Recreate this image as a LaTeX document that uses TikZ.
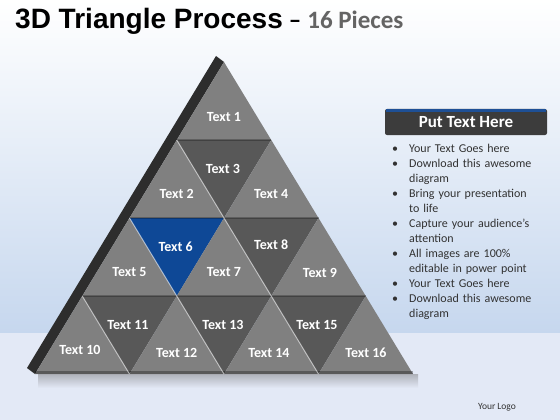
\documentclass[tikz,border=0pt]{standalone}
\usepackage{fontspec}
\setmainfont{Carlito}
\newfontfamily\titlefont{Liberation Sans}
\usetikzlibrary{calc}
\definecolor{bgblue}{RGB}{198,215,238}
\definecolor{bgpale}{RGB}{227,233,246}
\definecolor{upgray}{RGB}{128,128,128}
\definecolor{dngray}{RGB}{88,88,88}
\definecolor{sidegray}{RGB}{45,45,45}
\definecolor{blueface}{RGB}{14,72,150}
\definecolor{headgray}{RGB}{60,60,60}
\definecolor{headblue}{RGB}{30,80,150}
\definecolor{bodytext}{RGB}{50,50,50}
\definecolor{subgray}{RGB}{100,100,100}
\definecolor{shadowgray}{RGB}{175,178,186}
\newcommand{\bitem}[1]{\hangindent=17pt\hangafter=1\noindent\makebox[17pt][l]{\textbullet}#1\par}
\tikzset{
    upface/.style =   {fill=upgray},
    downface/.style = {fill=dngray},
    seam/.style =     {draw=white,
                      line width=1pt,
                      opacity=0.55},
    ledge/.style =    {draw=black,
                      line width=1.2pt,
                      opacity=0.25},
    piece/.style =    {text=white,
                      font=\fontsize{14}{16}\selectfont\bfseries,
                      inner sep=0pt},
    head/.style =     {rectangle,
                      rounded corners=2pt,
                      fill=headgray,
                      text=white,
                      font=\fontsize{17}{19}\selectfont\bfseries,
                      minimum width=162pt,
                      minimum height=26pt,
                      inner sep=0pt},
    bullets/.style =  {text=bodytext,
                      font=\fontsize{12}{15}\selectfont,
                      text width=145pt,
                      align=left,
                      inner sep=0pt}}

\begin{document}
\begin{tikzpicture}[x=1pt,y=-1pt]
            \useasboundingbox (0,0) rectangle (560,420);
            % background
            \shade[top color=white, bottom color=bgblue] (0,0) rectangle (560,333);
            \fill[bgpale] (0,333) rectangle (560,420);
            \shade[top color=shadowgray, bottom color=bgpale] (38,374) rectangle (418,388);

            % grid corners
            \coordinate (p00) at (224,62);
            \coordinate (p10) at (176.75,140);
            \coordinate (p11) at (271.25,140);
            \coordinate (p20) at (129.5,218);
            \coordinate (p21) at (224,218);
            \coordinate (p22) at (318.5,218);
            \coordinate (p30) at (82.25,296);
            \coordinate (p31) at (176.75,296);
            \coordinate (p32) at (271.25,296);
            \coordinate (p33) at (365.75,296);
            \coordinate (p40) at (35,374);
            \coordinate (p41) at (129.5,374);
            \coordinate (p42) at (224,374);
            \coordinate (p43) at (318.5,374);
            \coordinate (p44) at (413,374);

            % side strip
            \fill[sidegray] (p00) -- ++(-8,-6) -- ($(p40)+(-8,-6)$) -- (p40) -- cycle;

            \fill[upface]   (p00) -- (p10) -- (p11) -- cycle;
            \fill[upface]   (p10) -- (p20) -- (p21) -- cycle;
            \fill[downface] (p10) -- (p11) -- (p21) -- cycle;
            \fill[upface]   (p11) -- (p21) -- (p22) -- cycle;
            \fill[upface]   (p20) -- (p30) -- (p31) -- cycle;
            \fill[blueface] (p20) -- (p21) -- (p31) -- cycle;
            \fill[upface]   (p21) -- (p31) -- (p32) -- cycle;
            \fill[downface] (p21) -- (p22) -- (p32) -- cycle;
            \fill[upface]   (p22) -- (p32) -- (p33) -- cycle;
            \fill[upface]   (p30) -- (p40) -- (p41) -- cycle;
            \fill[downface] (p30) -- (p31) -- (p41) -- cycle;
            \fill[upface]   (p31) -- (p41) -- (p42) -- cycle;
            \fill[downface] (p31) -- (p32) -- (p42) -- cycle;
            \fill[upface]   (p32) -- (p42) -- (p43) -- cycle;
            \fill[downface] (p32) -- (p33) -- (p43) -- cycle;
            \fill[upface]   (p33) -- (p43) -- (p44) -- cycle;

            \draw[ledge] (p10) -- (p11);
            \draw[ledge] (p20) -- (p22);
            \draw[ledge] (p30) -- (p33);
            \fill[black, opacity=0.3] ($(p40)+(0,-3)$) rectangle (p44);
            \draw[seam] (p10) -- (p43);
            \draw[seam] (p20) -- (p42);
            \draw[seam] (p30) -- (p41);

            \node[piece] (t1)  at (224,117)    {Text 1};
            \node[piece] (t2)  at (176.75,194) {Text 2};
            \node[piece] (t3)  at (223,169)    {Text 3};
            \node[piece] (t4)  at (271.25,194) {Text 4};
            \node[piece] (t5)  at (129.5,272)  {Text 5};
            \node[piece] (t6)  at (175.75,247) {Text 6};
            \node[piece] (t7)  at (224,272)    {Text 7};
            \node[piece] (t8)  at (271.25,245) {Text 8};
            \node[piece] (t9)  at (320,273)    {Text 9};
            \node[piece] (t10) at (80,350)     {Text 10};
            \node[piece] (t11) at (128,325)    {Text 11};
            \node[piece] (t12) at (176.75,353) {Text 12};
            \node[piece] (t13) at (223,325)    {Text 13};
            \node[piece] (t14) at (269,353)    {Text 14};
            \node[piece] (t15) at (317,325)    {Text 15};
            \node[piece] (t16) at (366,353)    {Text 16};

            % right panel
            \node[head] (put) at (466,122) {Put Text Here};
            \fill[headblue] ([xshift=1pt]put.north west) rectangle ([xshift=-1pt,yshift=-3pt]put.north east);
            \node[bullets, anchor=north west] (list) at (392,144) {%
                \hyphenpenalty=10000
                \bitem{Your Text Goes here}
                \bitem{Download this awesome diagram}
                \bitem{Bring your presentation to life}
                \bitem{Capture your audience’s attention}
                \bitem{All images are 100\% editable in power point}
                \bitem{Your Text Goes here}
                \bitem{Download this awesome diagram}};

            \node[anchor=base west, inner sep=0pt] (title) at (15,29)
                {{\titlefont\fontsize{28}{32}\selectfont\bfseries 3D Triangle Process}\hspace{6pt}%
                 {\fontsize{25}{28}\selectfont\bfseries –\hspace{6pt}\textcolor{subgray}{16 Pieces}}};
            \node[anchor=base, inner sep=0pt, text=bodytext, font=\fontsize{9.5}{11}\selectfont] (logo) at (497,409) {Your Logo};
        \end{tikzpicture}
\end{document}
